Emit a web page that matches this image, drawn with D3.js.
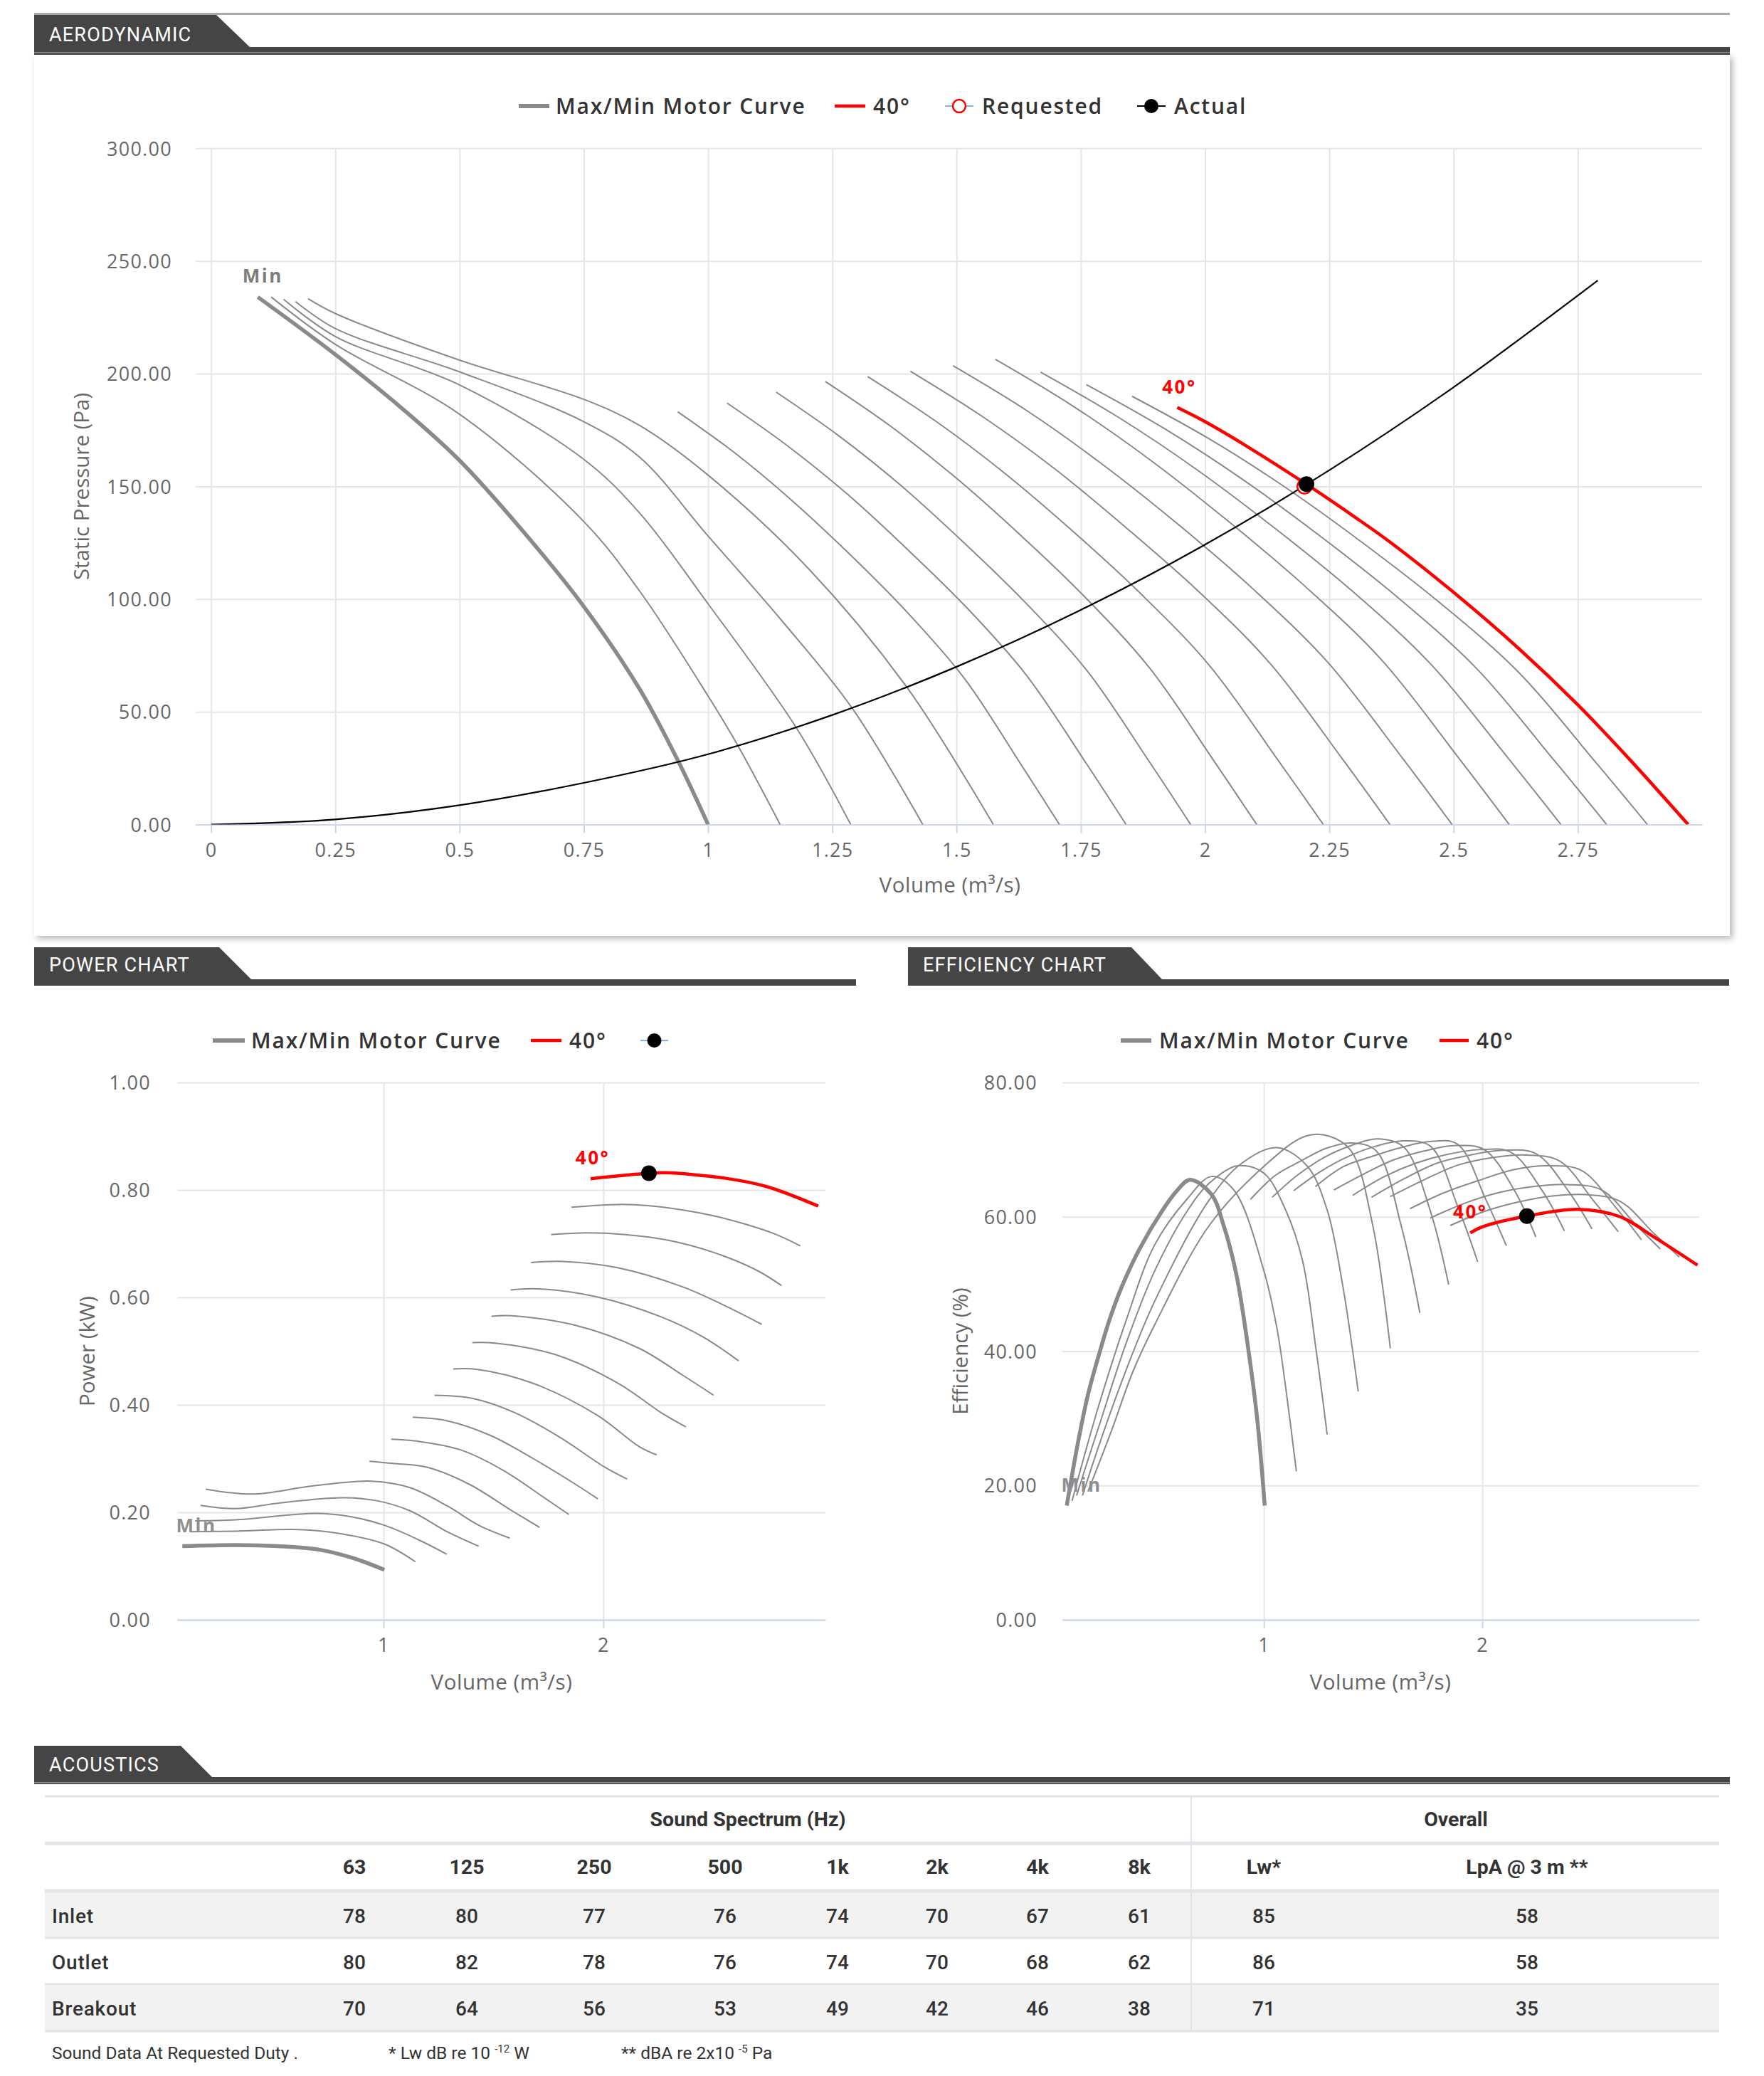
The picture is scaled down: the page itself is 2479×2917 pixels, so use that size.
<!DOCTYPE html>
<html><head><meta charset="utf-8">
<script src="https://cdn.jsdelivr.net/npm/d3@7"></script>
<style>html,body{margin:0;padding:0;background:#fff;}svg{display:block;}</style>
</head><body>
<svg id="c" width="2479" height="2917"></svg>
<script>
// ===================== DATA =====================
// Aerodynamic (static pressure, Pa) vs volume (m3/s)
const pressureXTicks = [0,0.25,0.5,0.75,1,1.25,1.5,1.75,2,2.25,2.5,2.75];
const pressureYTicks = [0,50,100,150,200,250,300];
const pressureMin = [[0.094,234],[0.25,208.5],[0.39,183.5],[0.5,161.5],[0.628,130],[0.75,96.7],[0.8625,60],[0.939,28.5],[1.0,0]];
const pressureThin = [
  [[0.121,234],[0.25,213],[0.5,182],[0.75,134.4],[0.8625,103.5],[1.0,57],[1.06,35],[1.145,0]],
  [[0.146,233],[0.25,216.5],[0.5,195],[0.75,162],[0.8625,138.1],[1.0,97.9],[1.177,43.1],[1.287,0]],
  [[0.170,232],[0.25,220],[0.5,200.8],[0.75,178.7],[0.8625,162.9],[1.0,128],[1.15,90],[1.29,51.6],[1.432,0]],
  [[0.195,233.3],[0.25,226.7],[0.5,206],[0.75,188.6],[0.8625,177],[1.0,155],[1.2,114],[1.40,60.9],[1.574,0]],
  [[0.939,183.1],[1.054,164.8],[1.169,143.7],[1.285,119.9],[1.4,94.3],[1.515,65],[1.63,26.5],[1.707,0]],
  [[1.038,187],[1.158,168.3],[1.279,146.8],[1.399,122.5],[1.52,96.3],[1.64,66.4],[1.761,27.1],[1.841,0]],
  [[1.137,191.8],[1.262,172.6],[1.387,150.6],[1.512,125.6],[1.637,98.8],[1.763,68.1],[1.888,27.8],[1.971,0]],
  [[1.236,196.5],[1.366,176.9],[1.496,154.3],[1.627,128.7],[1.757,101.2],[1.887,69.8],[2.017,28.5],[2.104,0]],
  [[1.321,198.7],[1.459,178.8],[1.596,156],[1.734,130.1],[1.871,102.3],[2.009,70.5],[2.146,28.8],[2.238,0]],
  [[1.407,201.1],[1.552,181],[1.697,157.9],[1.841,131.7],[1.986,103.6],[2.131,71.4],[2.276,29.2],[2.372,0]],
  [[1.493,203.5],[1.644,183.2],[1.794,159.7],[1.945,133.3],[2.095,104.8],[2.246,72.2],[2.397,29.5],[2.497,0]],
  [[1.578,206.4],[1.733,185.8],[1.888,162],[2.043,135.2],[2.198,106.3],[2.354,73.3],[2.509,29.9],[2.612,0]],
  [[1.669,200.7],[1.826,180.6],[1.983,157.5],[2.14,131.5],[2.297,103.4],[2.454,71.2],[2.611,29.1],[2.716,0]],
  [[1.761,195.2],[1.918,175.7],[2.075,153.2],[2.232,127.9],[2.389,100.5],[2.546,69.3],[2.703,28.3],[2.808,0]],
  [[1.853,190],[2.009,171],[2.164,149.2],[2.32,124.5],[2.475,97.9],[2.631,67.5],[2.786,27.6],[2.89,0]]
];
const pressure40 = [[1.944,185],[2.0,178.7],[2.084,167.8],[2.205,150.8],[2.304,136],[2.377,124.5],[2.5,103],[2.633,77.7],[2.75,53.1],[2.853,29.2],[2.972,0]];
const systemCurve = [[0,0],[0.25,2.3],[0.5,8.6],[0.75,18.5],[1.0,31.2],[1.25,48.6],[1.5,70],[1.75,95.2],[2.0,124.2],[2.25,157.2],[2.5,194],[2.79,241.3]];
const requestedPoint = [2.2,150];
const actualPoint = [2.204,151];

// Power (kW)
const powerXTicks = [1,2];
const powerYTicks = [0,0.2,0.4,0.6,0.8,1.0];
const powerMin = [[0.085,0.137],[0.327,0.139],[0.52,0.137],[0.714,0.13],[0.868,0.114],[1.004,0.093]];
const powerThin = [
  [[0.124,0.164],[0.327,0.165],[0.617,0.168],[0.81,0.16],[1.004,0.141],[1.145,0.108]],
  [[0.143,0.184],[0.327,0.186],[0.694,0.198],[0.849,0.192],[1.004,0.176],[1.159,0.149],[1.288,0.122]],
  [[0.168,0.213],[0.327,0.207],[0.52,0.217],[0.81,0.227],[0.965,0.222],[1.12,0.203],[1.294,0.163],[1.433,0.137]],
  [[0.191,0.243],[0.404,0.234],[0.675,0.249],[0.946,0.258],[1.12,0.246],[1.294,0.211],[1.433,0.176],[1.574,0.152]],
  [[0.936,0.295],[1.043,0.291],[1.197,0.284],[1.391,0.252],[1.584,0.203],[1.71,0.172]],
  [[1.035,0.336],[1.159,0.332],[1.352,0.316],[1.545,0.278],[1.739,0.225],[1.843,0.196]],
  [[1.133,0.377],[1.294,0.37],[1.487,0.343],[1.681,0.3],[1.874,0.252],[1.975,0.225]],
  [[1.232,0.418],[1.407,0.412],[1.6,0.385],[1.801,0.34],[2.003,0.285],[2.108,0.262]],
  [[1.317,0.467],[1.429,0.466],[1.681,0.44],[1.971,0.381],[2.164,0.322],[2.242,0.307]],
  [[1.404,0.516],[1.507,0.515],[1.778,0.494],[2.068,0.44],[2.261,0.386],[2.375,0.359]],
  [[1.491,0.565],[1.584,0.566],[1.874,0.548],[2.164,0.505],[2.358,0.456],[2.501,0.418]],
  [[1.578,0.614],[1.7,0.616],[1.971,0.601],[2.261,0.564],[2.455,0.526],[2.615,0.482]],
  [[1.671,0.665],[1.816,0.667],[2.068,0.655],[2.358,0.62],[2.551,0.585],[2.72,0.55]],
  [[1.762,0.717],[1.9,0.72],[2.1,0.717],[2.3,0.706],[2.5,0.684],[2.7,0.65],[2.81,0.622]],
  [[1.855,0.768],[2.068,0.773],[2.2,0.771],[2.358,0.763],[2.5,0.752],[2.648,0.736],[2.78,0.718],[2.896,0.696]]
];
const power40 = [[1.942,0.821],[2.207,0.831],[2.28,0.832],[2.551,0.822],[2.745,0.806],[2.977,0.77]];
const powerPoint = [2.207,0.831];

// Efficiency (%)
const effXTicks = [1,2];
const effYTicks = [0,20,40,60,80];
const effMin = [[0.098,17],[0.15,26.5],[0.195,33.5],[0.25,40],[0.295,44.8],[0.35,49.6],[0.431,55.2],[0.537,61],[0.6,63.8],[0.662,65.5],[0.759,63.4],[0.817,58.6],[0.875,51.3],[0.932,39.6],[0.971,29.5],[1.004,17]];
const effThin = [
  [[0.122,17.7],[0.18,24.6],[0.25,32.5],[0.37,44.6],[0.5,55.8],[0.65,62.7],[0.76,66],[0.8625,64],[1.0,52],[1.06,43.4],[1.1,34.6],[1.149,22.1]],
  [[0.143,18.5],[0.2,24.3],[0.25,29.3],[0.37,41.2],[0.5,51.9],[0.65,60.9],[0.75,65],[0.88,67.6],[1.0,66.5],[1.1,61],[1.177,53.5],[1.24,40],[1.29,27.6]],
  [[0.17,18.5],[0.25,26.4],[0.37,37.2],[0.5,47.4],[0.75,62.5],[0.9,68],[1.06,70.3],[1.2,67.5],[1.29,61],[1.36,50],[1.432,34]],
  [[0.195,19.1],[0.3,27.9],[0.4,36.9],[0.5,43.9],[0.75,58.7],[1.0,67.5],[1.19,72],[1.3,72],[1.4,69.8],[1.5,58.5],[1.579,40.4]],
  [[0.939,62.6],[1.054,66.2],[1.169,68.3],[1.285,70.2],[1.4,71.0],[1.515,69.8],[1.63,58.5],[1.714,45.7]],
  [[1.038,62.9],[1.158,66.3],[1.279,68.9],[1.399,70.6],[1.52,71.6],[1.64,70.4],[1.761,61],[1.846,49.9]],
  [[1.137,63.9],[1.262,66.8],[1.387,69],[1.512,70.5],[1.637,71.3],[1.763,70.5],[1.888,61.5],[1.979,53.3]],
  [[1.236,64.5],[1.366,67.5],[1.496,69],[1.627,70.3],[1.757,71.2],[1.887,70.8],[2.017,62.5],[2.11,55.7]],
  [[1.321,64],[1.459,66.4],[1.596,68.5],[1.734,69.8],[1.871,70.6],[2.009,70],[2.146,64],[2.245,57]],
  [[1.407,63.2],[1.552,66],[1.697,68],[1.841,69.3],[1.986,70],[2.131,69.6],[2.276,63.8],[2.376,57.9]],
  [[1.493,62.9],[1.644,65.7],[1.794,68],[1.945,69.2],[2.095,69.9],[2.246,69.4],[2.397,63.7],[2.502,58.2]],
  [[1.578,63],[1.733,65.5],[1.888,67.7],[2.043,68.8],[2.198,69.2],[2.354,68.3],[2.509,62.4],[2.622,57.8]],
  [[1.669,61.2],[1.826,63.6],[1.983,65.4],[2.14,67],[2.297,67.6],[2.454,66.9],[2.611,61.4],[2.728,56.6]],
  [[1.761,59.8],[1.918,62],[2.075,63.6],[2.232,64.5],[2.389,64.8],[2.546,64],[2.703,58.8],[2.815,55.2]],
  [[1.853,58.7],[2.009,60.8],[2.164,62.2],[2.32,63.1],[2.475,63.3],[2.631,62.3],[2.786,57.5],[2.902,54]]
];
const eff40 = [[1.945,57.6],[2.0,58.5],[2.204,60.1],[2.438,61.1],[2.631,60],[2.786,57],[2.985,52.8]];
const effPoint = [2.204,60.1];

// Acoustics
const spectrumBands = ['63','125','250','500','1k','2k','4k','8k'];
const overallCols = ['Lw*','LpA @ 3 m **'];
const rowNames = ['Inlet','Outlet','Breakout'];
const inletLevels = [78,80,77,76,74,70,67,61,85,58];
const outletLevels = [80,82,78,76,74,70,68,62,86,58];
const breakoutLevels = [70,64,56,53,49,42,46,38,71,35];

// ===================== DRAWING =====================
const svg = d3.select('#c');
const FONT = "'Open Sans','DejaVu Sans',sans-serif";
const TFONT = "Roboto,'Open Sans',sans-serif";
const GRAY = '#8a8a8a', RED = '#ff0000';

const defs = svg.append('defs');
const flt = defs.append('filter').attr('id','sh').attr('x','-2%').attr('y','-2%').attr('width','104%').attr('height','104%');
flt.append('feDropShadow').attr('dx',4).attr('dy',4).attr('stdDeviation',4).attr('flood-color','#000').attr('flood-opacity',0.28);

// top rule
svg.append('rect').attr('x',48).attr('y',18).attr('width',2383).attr('height',3).attr('fill','#a8a8a8');
// aerodynamic panel
svg.append('rect').attr('x',48).attr('y',77).attr('width',2383).attr('height',1238).attr('fill','#fff').attr('filter','url(#sh)');

function tab(x0, yTop, yBot, xTR, xBR, barEnd, barH, label, stripe, tOff){
  svg.append('path').attr('d',`M${x0},${yTop}H${xTR}L${xBR},${yBot}H${x0}Z`).attr('fill','#454545');
  svg.append('rect').attr('x',x0).attr('y',yBot-1).attr('width',barEnd-x0).attr('height',barH+1).attr('fill','#454545');
  if(stripe) svg.append('rect').attr('x',x0).attr('y',yBot+stripe).attr('width',barEnd-x0).attr('height',1.5).attr('fill','#8c8c8c');
  svg.append('text').attr('x',x0+21).attr('y',(yTop+yBot)/2+tOff).text(label)
    .attr('fill','#fff').attr('font-family',TFONT).attr('font-size',27).attr('letter-spacing',1.2);
}
tab(48,21,67,304,352,2431,10,'AERODYNAMIC',6,13.5);
tab(48,1331,1377,308,354,1203,8,'POWER CHART',0,10.5);
tab(1276,1331,1377,1590,1634,2430,8,'EFFICIENCY CHART',0,10.5);
tab(48,2453,2498,254,299,2431,9,'ACOUSTICS',6,13.5);

const line = (x,y)=>d3.line().x(d=>x(d[0])).y(d=>y(d[1])).curve(d3.curveCatmullRom.alpha(0.5));

function frame(id, x, y, xTicks, yTicks, xFmt, yFmt, labelRight, yTitle, yTitleX, xTitle, xTitleX, xTitleY){
  const [x0,x1] = x.range(), [yb,yt] = y.range();
  const gy = svg.append('g').attr('transform',`translate(${x0},0)`)
    .call(d3.axisLeft(y).tickValues(yTicks).tickSize(-(x1-x0)).tickSizeOuter(0).tickFormat(yFmt).tickPadding(x0-labelRight));
  gy.select('.domain').remove();
  gy.selectAll('line').attr('stroke','#e6e6e6').attr('stroke-width',2);
  gy.selectAll('.tick').filter(d=>d===0).select('line').attr('stroke','#ccd6eb');
  gy.selectAll('text').attr('fill','#666').attr('font-family',FONT).attr('font-size',27).attr('letter-spacing',1.3).attr('dy','0.36em');
  const gx = svg.append('g').attr('transform',`translate(0,${yb})`)
    .call(d3.axisBottom(x).tickValues(xTicks).tickSize(-(yb-yt)).tickSizeOuter(0).tickFormat(''));
  gx.select('.domain').remove();
  gx.selectAll('line').attr('stroke','#e6e6e6').attr('stroke-width',2);
  const gt = svg.append('g').attr('transform',`translate(0,${yb})`)
    .call(d3.axisBottom(x).tickValues(xTicks).tickSize(12).tickSizeOuter(0).tickPadding(14).tickFormat(xFmt));
  gt.select('.domain').attr('stroke','#ccd6eb').attr('stroke-width',2);
  gt.selectAll('line').attr('stroke','#ccd6eb').attr('stroke-width',2);
  gt.selectAll('text').attr('fill','#666').attr('font-family',FONT).attr('font-size',27).attr('letter-spacing',1.3);
  svg.append('text').attr('transform',`translate(${yTitleX},${(yb+yt)/2}) rotate(-90)`).attr('text-anchor','middle')
    .attr('fill','#666').attr('font-family',FONT).attr('font-size',29.5).text(yTitle);
  svg.append('text').attr('x',xTitleX).attr('y',xTitleY).attr('text-anchor','middle')
    .attr('fill','#666').attr('font-family',FONT).attr('font-size',29.5).attr('letter-spacing',0.5).text(xTitle);
  defs.append('clipPath').attr('id',id).append('rect').attr('x',x0).attr('y',yt-40).attr('width',x1-x0).attr('height',yb-yt+40);
  return svg.append('g').attr('clip-path',`url(#${id})`);
}

function legendItem(xL, xR, yc, color, width, txt, txtX, marker){
  svg.append('line').attr('x1',xL).attr('x2',xR).attr('y1',yc).attr('y2',yc).attr('stroke',color).attr('stroke-width',width);
  if(marker==='req') svg.append('circle').attr('cx',(xL+xR)/2).attr('cy',yc).attr('r',9).attr('fill','#fff').attr('stroke',RED).attr('stroke-width',2.5);
  if(marker==='act') svg.append('circle').attr('cx',(xL+xR)/2).attr('cy',yc).attr('r',10).attr('fill','#000');
  if(txt) svg.append('text').attr('x',txtX).attr('y',yc+10.5).text(txt).attr('fill','#333')
    .attr('font-family',FONT).attr('font-weight',600).attr('font-size',30).attr('letter-spacing',1.8);
}

function seriesLabel(x, y, pt, txt, color, plotLeft, dx){
  const cx = Math.max(x(pt[0])+dx, plotLeft+27);
  svg.append('text').attr('x',cx).attr('y',y(pt[1])-20).attr('text-anchor','middle').text(txt)
    .attr('fill',color).attr('font-family',FONT).attr('font-weight',700).attr('font-size',26).attr('letter-spacing',2.5);
}

function curves(g, x, y, minData, thinData, redData){
  const L = line(x,y);
  thinData.forEach(d=>g.append('path').attr('d',L(d)).attr('fill','none').attr('stroke',GRAY).attr('stroke-width',2));
  g.append('path').attr('d',L(minData)).attr('fill','none').attr('stroke',GRAY).attr('stroke-width',5.5);
  g.append('path').attr('d',L(redData)).attr('fill','none').attr('stroke',RED).attr('stroke-width',4.5);
}

// ---- Aerodynamic chart ----
{
  const x = d3.scaleLinear([-0.031,3.0],[275,2392]);
  const y = d3.scaleLinear([0,300],[1158.6,208.3]);
  const g = frame('cp1', x, y, pressureXTicks, pressureYTicks, d=>String(d), d=>d.toFixed(2), 242,
    'Static Pressure (Pa)', 125, 'Volume (m³/s)', 1335, 1254);
  curves(g, x, y, pressureMin, pressureThin, pressure40);
  g.append('path').attr('d',line(x,y)(systemCurve)).attr('fill','none').attr('stroke','#000').attr('stroke-width',2.2);
  g.append('circle').attr('cx',x(requestedPoint[0])).attr('cy',y(requestedPoint[1])).attr('r',10).attr('fill','#fff').attr('stroke',RED).attr('stroke-width',2.5);
  g.append('circle').attr('cx',x(actualPoint[0])).attr('cy',y(actualPoint[1])).attr('r',11).attr('fill','#000');
  seriesLabel(x, y, pressureMin[0], 'Min', '#7d7d7d', 275, 7);
  seriesLabel(x, y, pressure40[0], '40°', RED, 275, 3);
  legendItem(729,772,149,GRAY,6,'Max/Min Motor Curve',781);
  legendItem(1173,1216,149,RED,4.5,'40°',1227);
  legendItem(1328,1368,149,'#7cb5ec',2,'Requested',1380,'req');
  legendItem(1598,1638,149,'#000',2,'Actual',1650,'act');
}

// ---- Power chart ----
{
  const x = d3.scaleLinear([0.0615,3.01],[249,1160]);
  const y = d3.scaleLinear([0,1],[2276,1521]);
  const g = frame('cp2', x, y, powerXTicks, powerYTicks, d=>String(d), d=>d.toFixed(2), 212,
    'Power (kW)', 133, 'Volume (m³/s)', 705, 2374);
  curves(g, x, y, powerMin, powerThin, power40);
  g.append('circle').attr('cx',x(powerPoint[0])).attr('cy',y(powerPoint[1])).attr('r',11).attr('fill','#000');
  seriesLabel(x, y, powerMin[0], 'Min', '#8f8f8f', 249, 0);
  seriesLabel(x, y, power40[0], '40°', RED, 249, 3);
  legendItem(299,344,1462,GRAY,6,'Max/Min Motor Curve',353);
  legendItem(746,789,1462,RED,4.5,'40°',800);
  legendItem(900,939,1462,'#7cb5ec',2,'',0,'act');
}

// ---- Efficiency chart ----
{
  const x = d3.scaleLinear([0.078,2.993],[1493,2388]);
  const y = d3.scaleLinear([0,80],[2276,1521]);
  const g = frame('cp3', x, y, effXTicks, effYTicks, d=>String(d), d=>d.toFixed(2), 1458,
    'Efficiency (%)', 1360, 'Volume (m³/s)', 1940, 2374);
  curves(g, x, y, effMin, effThin, eff40);
  g.append('circle').attr('cx',x(effPoint[0])).attr('cy',y(effPoint[1])).attr('r',11).attr('fill','#000');
  seriesLabel(x, y, effMin[0], 'Min', '#8f8f8f', 1493, 0);
  seriesLabel(x, y, eff40[0], '40°', RED, 1493, 0);
  legendItem(1575,1618,1462,GRAY,6,'Max/Min Motor Curve',1629);
  legendItem(2023,2064,1462,RED,4.5,'40°',2075);
}

// ---- Acoustics table ----
{
  const cols = spectrumBands.concat(overallCols);
  const colX = d3.scaleOrdinal().domain(cols).range([498,656,835,1019,1177,1317,1458,1601,1776,2146]);
  const rowY = d3.scaleOrdinal().domain(rowNames).range([2692,2757,2822]);
  const T = svg.append('g').attr('font-family',TFONT).attr('fill','#333');
  T.append('rect').attr('x',63).attr('y',2659).attr('width',2353).attr('height',63).attr('fill','#f2f2f2');
  T.append('rect').attr('x',63).attr('y',2790).attr('width',2353).attr('height',63).attr('fill','#f2f2f2');
  const hl = (yy,h)=>T.append('rect').attr('x',63).attr('y',yy-h/2).attr('width',2353).attr('height',h).attr('fill','#e1e4e8');
  hl(2524,3); hl(2590,5); hl(2657,5); hl(2723,3); hl(2788,3); hl(2854,3);
  T.append('rect').attr('x',1673).attr('y',2524).attr('width',2).attr('height',330).attr('fill','#e1e4e8');
  T.append('text').attr('x',1051).attr('y',2566).attr('text-anchor','middle').attr('font-weight',700).attr('font-size',28.5).text('Sound Spectrum (Hz)');
  T.append('text').attr('x',2046).attr('y',2566).attr('text-anchor','middle').attr('font-weight',700).attr('font-size',28.5).text('Overall');
  cols.forEach(c=>T.append('text').attr('x',colX(c)).attr('y',2633).attr('text-anchor','middle').attr('font-weight',700).attr('font-size',28.5).text(c));
  const rows = [inletLevels,outletLevels,breakoutLevels];
  rowNames.forEach((n,i)=>{
    T.append('text').attr('x',73).attr('y',rowY(n)+10).attr('font-size',28).attr('font-weight',500).attr('letter-spacing',0.8).text(n);
    rows[i].forEach((v,j)=>T.append('text').attr('x',colX(cols[j])).attr('y',rowY(n)+10).attr('text-anchor','middle').attr('font-size',28).attr('font-weight',500).text(v));
  });
  T.append('text').attr('x',73).attr('y',2893).attr('font-size',24.5).text('Sound Data At Requested Duty .');
  const f1 = T.append('text').attr('x',546).attr('y',2893).attr('font-size',24.5);
  f1.append('tspan').text('* Lw dB re 10 ');
  f1.append('tspan').attr('font-size',15).attr('dy',-9).text('-12');
  f1.append('tspan').attr('dy',9).text(' W');
  const f2 = T.append('text').attr('x',873).attr('y',2893).attr('font-size',24.5);
  f2.append('tspan').text('** dBA re 2x10 ');
  f2.append('tspan').attr('font-size',15).attr('dy',-9).text('-5');
  f2.append('tspan').attr('dy',9).text(' Pa');
}
</script>
</body></html>
